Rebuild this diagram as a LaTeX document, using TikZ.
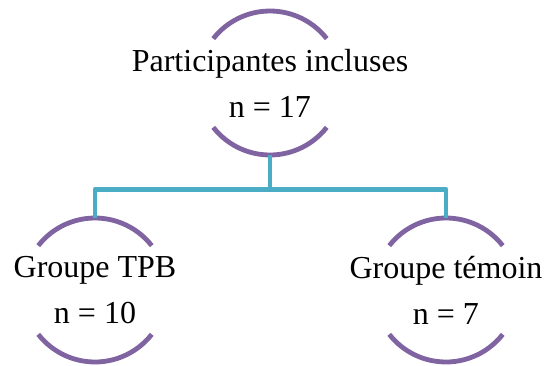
\documentclass[tikz,border=0pt]{standalone}
\usepackage{fontspec}
\setmainfont{Liberation Serif}
\newfontfamily\nodefont{Liberation Serif}
\usepackage{xcolor}
\definecolor{arcpurple}{HTML}{8064A2}
\definecolor{linkteal}{HTML}{4BACC6}
\def\arcrad{36pt}

\begin{document}
\begin{tikzpicture}[x=0.5pt,y=-0.5pt]
    \tikzstyle{bubble}=[circle,minimum size=72pt,inner sep=0pt]
    \tikzstyle{txt}=[align=center,inner sep=0pt,font=\nodefont\fontsize{16}{23}\selectfont]
    \tikzstyle{arcline}=[draw=arcpurple,line width=2.4pt]
    \tikzstyle{link}=[draw=linkteal,line width=2.4pt,line join=round]

    \useasboundingbox (0,0) rectangle (547,365);

    % Draw the group nodes
    \node[bubble,label={[txt]center:Participantes incluses\\n = 17}] (top) at (270,83) {};
    \node[bubble,label={[txt]center:Groupe TPB\\n = 10}] (tpb) at (95,290) {};
    \node[bubble,label={[txt]center:Groupe témoin\\n = 7}] (temoin) at (446,290) {};

    % Draw the upper and lower arcs round every node
    \foreach \name in {top,tpb,temoin}
    {
        \draw[arcline] ([shift={(38:\arcrad)}]\name.center) arc[start angle=38,end angle=142,radius=\arcrad];
        \draw[arcline] ([shift={(-38:\arcrad)}]\name.center) arc[start angle=-38,end angle=-142,radius=\arcrad];
    }

    % Connect the top node with both groups
    \coordinate (split) at ([yshift=-17pt]top.south);
    \draw[link] (top.south) -- (split);
    \draw[link] (tpb.north) |- (split) -| (temoin.north);
\end{tikzpicture}
\end{document}
